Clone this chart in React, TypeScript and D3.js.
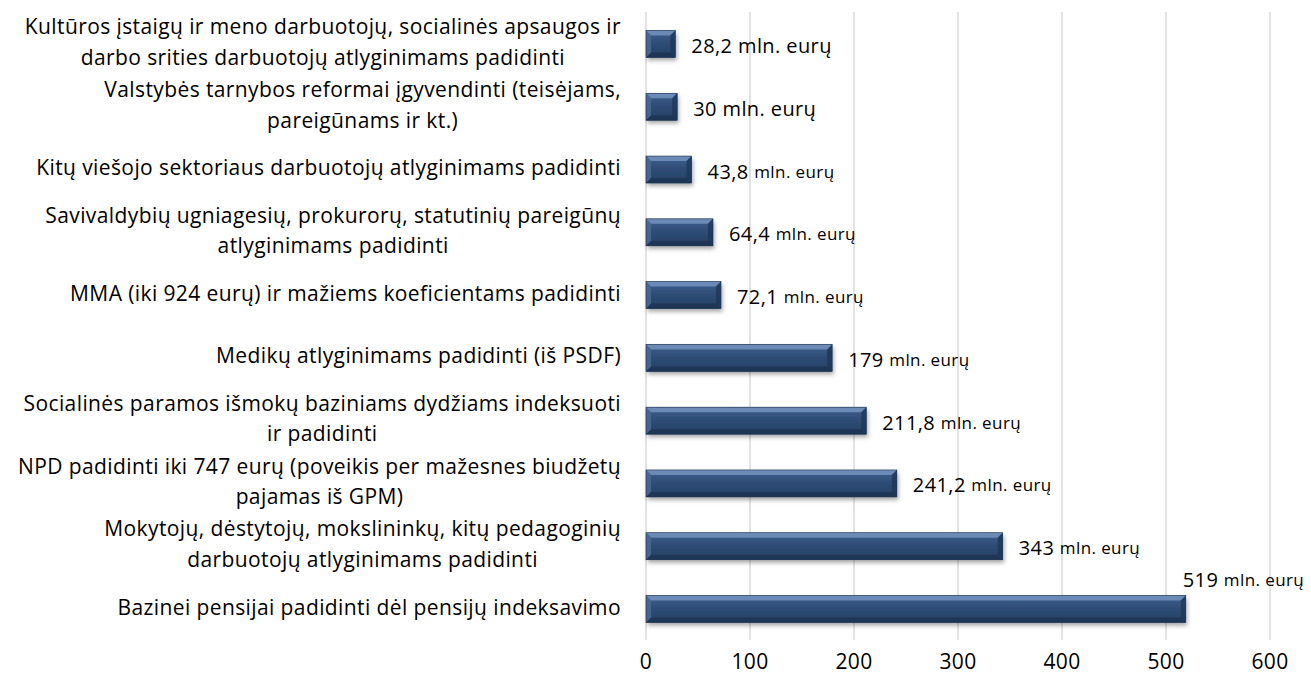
import React, { useEffect, useRef } from "react";
import * as d3 from "d3";

const categoryLines: string[][] = [
  ["Kultūros įstaigų ir meno darbuotojų, socialinės apsaugos ir", "darbo srities darbuotojų atlyginimams padidinti"],
  ["Valstybės tarnybos reformai įgyvendinti (teisėjams,", "pareigūnams ir kt.)"],
  ["Kitų viešojo sektoriaus darbuotojų atlyginimams padidinti"],
  ["Savivaldybių ugniagesių, prokurorų, statutinių pareigūnų", "atlyginimams padidinti"],
  ["MMA (iki 924 eurų) ir mažiems koeficientams padidinti"],
  ["Medikų atlyginimams padidinti (iš PSDF)"],
  ["Socialinės paramos išmokų baziniams dydžiams indeksuoti", "ir padidinti"],
  ["NPD padidinti iki 747 eurų (poveikis per mažesnes biudžetų", "pajamas iš GPM)"],
  ["Mokytojų, dėstytojų, mokslininkų, kitų pedagoginių", "darbuotojų atlyginimams padidinti"],
  ["Bazinei pensijai padidinti dėl pensijų indeksavimo"],
];
const values: number[] = [28.2, 30, 43.8, 64.4, 72.1, 179, 211.8, 241.2, 343, 519];
const valueTexts: string[] = ["28,2", "30", "43,8", "64,4", "72,1", "179", "211,8", "241,2", "343", "519"];
const unitText = "mln. eurų";
const smallUnit: boolean[] = [false, false, true, true, true, true, true, true, true, true];
const xTicks: number[] = [0, 100, 200, 300, 400, 500, 600];

const W = 1311;
const H = 679;
const FONT = "'Open Sans', sans-serif";
const FS = 21;
const LS = 0.4;

export default function App() {
  const ref = useRef<SVGSVGElement | null>(null);

  useEffect(() => {
    const svg = d3.select(ref.current!);
    svg.selectAll("*").remove();

    const x = d3.scaleLinear().domain([0, 600]).range([646, 1270]);
    const ids = categoryLines.map((_, i) => String(i));
    const y = d3.scaleBand<string>().domain(ids).range([12.6, 640.4]).paddingInner(0.57).paddingOuter(0.285);

    const defs = svg.append("defs");
    const grad = defs.append("linearGradient").attr("id", "barGrad").attr("x1", 0).attr("y1", 0).attr("x2", 0).attr("y2", 1);
    grad.append("stop").attr("offset", "0%").attr("stop-color", "#3f618e");
    grad.append("stop").attr("offset", "45%").attr("stop-color", "#2f4d77");
    grad.append("stop").attr("offset", "100%").attr("stop-color", "#263f63");
    const f = defs.append("filter").attr("id", "shadow").attr("x", "-10%").attr("y", "-30%").attr("width", "130%").attr("height", "180%");
    f.append("feDropShadow").attr("dx", 1.5).attr("dy", 3).attr("stdDeviation", 2).attr("flood-color", "#000").attr("flood-opacity", 0.35);

    // gridlines
    svg.append("g").selectAll("line").data(xTicks).join("line")
      .attr("x1", (d) => x(d)).attr("x2", (d) => x(d))
      .attr("y1", 12).attr("y2", 640)
      .attr("stroke", "#d9d9d9").attr("stroke-width", 1.5);

    // tick labels
    svg.append("g").selectAll("text").data(xTicks).join("text")
      .attr("x", (d) => x(d)).attr("y", 661)
      .attr("text-anchor", "middle").attr("dominant-baseline", "central")
      .attr("font-family", FONT).attr("font-size", FS).attr("letter-spacing", LS).attr("fill", "#000")
      .text((d) => String(d));

    // bars
    const bh = y.bandwidth();
    const bars = svg.append("g").selectAll("g").data(values).join("g");
    bars.each(function (d, i) {
      const g = d3.select(this);
      const x0 = x(0);
      const x1 = x(d);
      const y0 = y(String(i))!;
      const y1 = y0 + bh;
      const b = Math.min(5, (x1 - x0) / 3);
      g.append("rect").attr("x", x0).attr("y", y0).attr("width", x1 - x0).attr("height", bh)
        .attr("fill", "url(#barGrad)").attr("filter", "url(#shadow)");
      g.append("polygon").attr("points", `${x0},${y0} ${x1},${y0} ${x1 - b},${y0 + b} ${x0 + b},${y0 + b}`)
        .attr("fill", "#7393bd").attr("opacity", 0.85);
      g.append("polygon").attr("points", `${x0},${y1} ${x1},${y1} ${x1 - b},${y1 - b} ${x0 + b},${y1 - b}`)
        .attr("fill", "#1d3352").attr("opacity", 0.8);
      g.append("polygon").attr("points", `${x0},${y0} ${x0 + b},${y0 + b} ${x0 + b},${y1 - b} ${x0},${y1}`)
        .attr("fill", "#4a6b97").attr("opacity", 0.8);
      g.append("polygon").attr("points", `${x1},${y0} ${x1 - b},${y0 + b} ${x1 - b},${y1 - b} ${x1},${y1}`)
        .attr("fill", "#1f3656").attr("opacity", 0.8);
      g.append("rect").attr("x", x0).attr("y", y0).attr("width", x1 - x0).attr("height", bh)
        .attr("fill", "none").attr("stroke", "#1c3150").attr("stroke-width", 0.6);
    });

    // category labels
    const labG = svg.append("g");
    categoryLines.forEach((lines, i) => {
      const cy = y(String(i))! + bh / 2 - 2.5;
      const lh = 30.5;
      const t = labG.append("text").attr("font-family", FONT).attr("font-size", FS).attr("letter-spacing", LS)
        .attr("fill", "#000").attr("text-anchor", "middle");
      const spans = lines.map((ln, k) =>
        t.append("tspan").attr("y", cy + (k - (lines.length - 1) / 2) * lh).attr("dominant-baseline", "central").text(ln)
      );
      const widths = spans.map((s) => (s.node() as SVGTSpanElement).getComputedTextLength());
      const mw = Math.max(...widths);
      const cx = 621 - mw / 2;
      spans.forEach((s) => s.attr("x", cx));
    });

    // value labels
    const valG = svg.append("g");
    values.forEach((v, i) => {
      const yc = y(String(i))! + bh / 2 + 1;
      const t = valG.append("text").attr("font-family", FONT).attr("font-size", 20).attr("letter-spacing", LS)
        .attr("fill", "#000").attr("dominant-baseline", "central");
      t.append("tspan").text(valueTexts[i] + " ");
      t.append("tspan").attr("font-size", smallUnit[i] ? 17 : 20).text(unitText);
      let lx = x(v) + 16;
      const w = (t.node() as SVGTextElement).getComputedTextLength();
      if (lx + w > W - 4) {
        lx = x(v) - 3;
        t.attr("y", y(String(i))! - 17);
      } else {
        t.attr("y", yc);
      }
      t.attr("x", lx);
    });
  }, []);

  return (
    <svg ref={ref} width={W} height={H} style={{ display: "block", background: "#fff", position: "absolute", left: 0, top: 0 }} />
  );
}
